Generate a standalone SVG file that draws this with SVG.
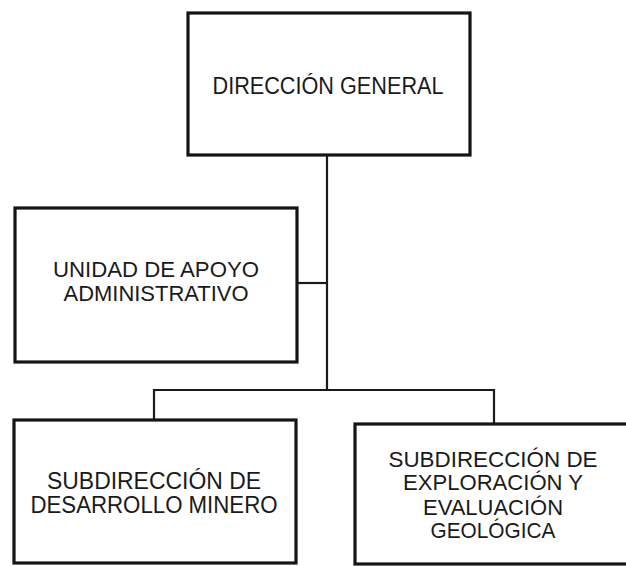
<svg xmlns="http://www.w3.org/2000/svg" width="626" height="566" viewBox="0 0 626 566">
<style>
.box{fill:#fff;stroke:#151515;stroke-width:3.2}
.con{fill:none;stroke:#1a1a1a;stroke-width:2.2}
.t{font-family:"Liberation Sans",Arial,sans-serif;font-size:23px;fill:#1a1a1a;text-anchor:middle}
.u{font-size:22px}
</style>
<rect width="626" height="566" fill="#fff"/>
<g id="connectors">
<path class="con" d="M327,155 V390"/>
<path class="con" d="M297,283 H327"/>
<path class="con" d="M154,420 V390 H494 V424"/>
</g>
<g id="direccion-general">
<rect class="box" x="188" y="13" width="282" height="142"/>
<text class="t" x="328" y="94" textLength="231" lengthAdjust="spacingAndGlyphs">DIRECCIÓN GENERAL</text>
</g>
<g id="unidad-apoyo">
<rect class="box" x="15" y="208" width="282" height="154"/>
<text class="t u" x="156" y="277" textLength="206" lengthAdjust="spacingAndGlyphs">UNIDAD DE APOYO</text>
<text class="t u" x="156" y="301" textLength="185" lengthAdjust="spacingAndGlyphs">ADMINISTRATIVO</text>
</g>
<g id="subdireccion-desarrollo">
<rect class="box" x="14" y="420" width="282" height="143"/>
<text class="t" x="154" y="489" textLength="214" lengthAdjust="spacingAndGlyphs">SUBDIRECCIÓN DE</text>
<text class="t" x="154" y="513" textLength="247" lengthAdjust="spacingAndGlyphs">DESARROLLO MINERO</text>
</g>
<g id="subdireccion-exploracion">
<rect class="box" x="355" y="424" width="290" height="140"/>
<text class="t u" x="493" y="467" textLength="209" lengthAdjust="spacingAndGlyphs">SUBDIRECCIÓN DE</text>
<text class="t u" x="493" y="490" textLength="180" lengthAdjust="spacingAndGlyphs">EXPLORACIÓN Y</text>
<text class="t u" x="493" y="515" textLength="140" lengthAdjust="spacingAndGlyphs">EVALUACIÓN</text>
<text class="t u" x="493" y="538" textLength="125" lengthAdjust="spacingAndGlyphs">GEOLÓGICA</text>
</g>
</svg>
